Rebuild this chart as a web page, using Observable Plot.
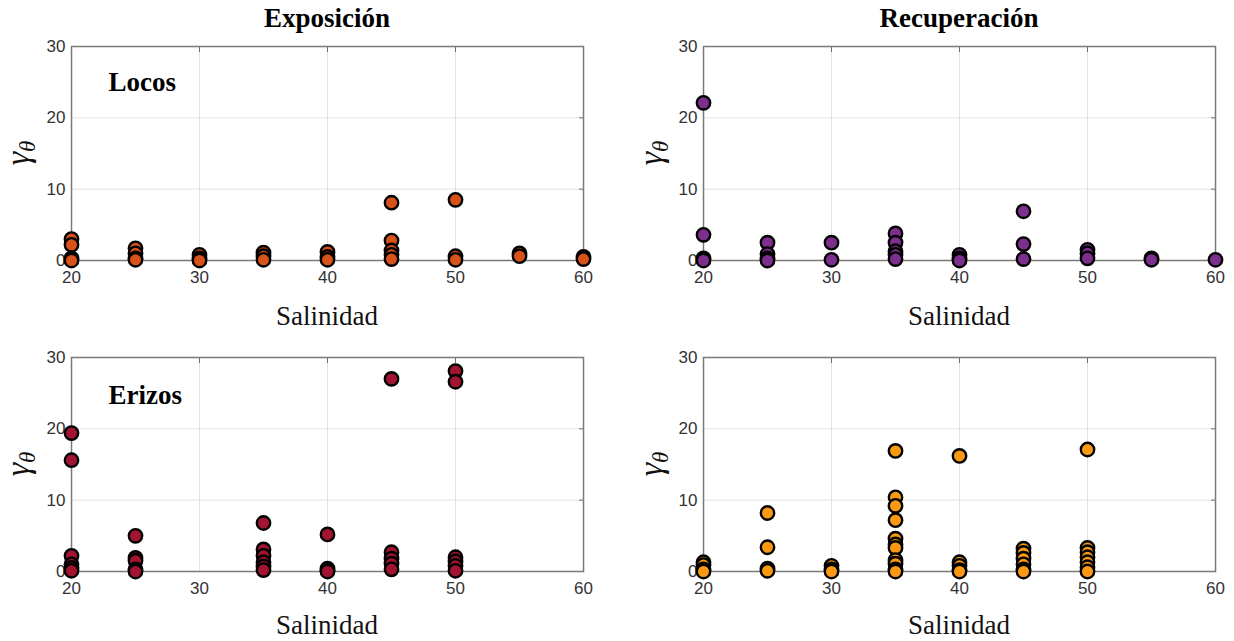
<!DOCTYPE html>
<html>
<head>
<meta charset="utf-8">
<script src="https://cdn.jsdelivr.net/npm/d3@7"></script>
<script src="https://cdn.jsdelivr.net/npm/@observablehq/plot@0.6"></script>
<style>
  html, body { margin: 0; padding: 0; background: #fff; }
  #chart { position: relative; width: 1234px; height: 641px; overflow: hidden; background: #fff; }
  #chart svg { position: absolute; }
</style>
</head>
<body>
<div id="chart"></div>
<script>
// ---- data ----
const salinidad = [20, 25, 30, 35, 40, 45, 50, 55, 60];
const xTicks = [20, 30, 40, 50, 60];
const yTicks = [0, 10, 20, 30];
const columnTitles = ["Exposición", "Recuperación"];
const rowNames = ["Locos", "Erizos"];
const xLabel = "Salinidad";

// values of gamma_theta per salinity (same order as `salinidad`)
const locosExposicion = [
  [3.0, 2.2, 0.3, 0.0],
  [1.7, 1.0, 0.3, 0.1],
  [0.8, 0.3, 0.0],
  [1.1, 0.6, 0.1],
  [1.2, 0.5, 0.1],
  [8.1, 2.8, 1.4, 0.8, 0.2],
  [8.5, 0.6, 0.1],
  [1.0, 0.6],
  [0.5, 0.2]
];
const locosRecuperacion = [
  [22.1, 3.6, 0.3, 0.0],
  [2.5, 0.9, 0.3, 0.0],
  [2.5, 0.1],
  [3.8, 2.5, 1.3, 0.8, 0.2],
  [0.8, 0.3, 0.0],
  [6.9, 2.3, 0.2],
  [1.5, 1.0, 0.3],
  [0.3, 0.1],
  [0.1]
];
const erizosExposicion = [
  [19.4, 15.6, 2.2, 1.0, 0.5, 0.1],
  [5.0, 1.9, 1.5, 0.3, 0.0],
  [],
  [6.8, 3.1, 2.2, 1.3, 0.7, 0.2],
  [5.2, 0.4, 0.1, 0.0],
  [27.0, 2.7, 1.8, 1.1, 0.3],
  [28.1, 26.6, 2.0, 1.4, 0.8, 0.1],
  [],
  []
];
const erizosRecuperacion = [
  [1.3, 0.9, 0.3, 0.0],
  [8.2, 3.4, 0.4, 0.1],
  [0.8, 0.3, 0.0],
  [16.9, 10.4, 9.2, 7.2, 4.6, 3.8, 3.3, 1.6, 1.1, 0.3, 0.0],
  [16.2, 1.3, 0.8, 0.2, 0.0],
  [3.2, 2.6, 1.8, 1.0, 0.3, 0.0],
  [17.1, 3.3, 2.7, 2.0, 1.3, 0.6, 0.0],
  [],
  []
];

// ---- styles ----
const colors = {
  locosExposicion: "#D95319",
  locosRecuperacion: "#7E2F8E",
  erizosExposicion: "#A2142F",
  erizosRecuperacion: "#F99A12"
};
const serif = "'Liberation Serif', 'DejaVu Serif', serif";
const sans = "'Liberation Sans', Arial, sans-serif";

function toRows(values) {
  const rows = [];
  salinidad.forEach((s, i) => (values[i] || []).forEach(v => rows.push({s, v})));
  return rows;
}

function panel(opts) {
  const {values, color, left, top, width, height, mL, mR, mT, mB, title, name, nameDy, yLabelX, xLabelDy} = opts;
  const svg = Plot.plot({
    width, height,
    marginLeft: mL, marginRight: mR, marginTop: mT, marginBottom: mB,
    x: {domain: [20, 60]},
    y: {domain: [0, 30]},
    style: {background: "transparent", fontFamily: sans, fontSize: "16px", color: "#333", overflow: "visible"},
    marks: [
      Plot.gridX(xTicks, {stroke: "#e2e2e2", strokeOpacity: 1}),
      Plot.gridY(yTicks, {stroke: "#e2e2e2", strokeOpacity: 1}),
      Plot.axisX(xTicks, {anchor: "top", tickSize: -5, tickFormat: () => "", stroke: "#6e6e6e", label: null}),
      Plot.axisY(yTicks, {anchor: "right", tickSize: -5, tickFormat: () => "", stroke: "#6e6e6e", label: null}),
      Plot.frame({stroke: "#7a7a7a", strokeWidth: 1.5}),
      Plot.axisX(xTicks, {anchor: "bottom", tickSize: 0, tickPadding: 10, label: null, fontSize: 17, fill: "#333"}),
      Plot.axisY(yTicks, {anchor: "left", tickSize: 0, tickPadding: 6, label: null, fontSize: 17, fill: "#333"}),
      Plot.dot(toRows(values), {x: "s", y: "v", r: 6.7, fill: color, stroke: "#000", strokeWidth: 2.4}),
      name ? Plot.text([name], {frameAnchor: "top-left", dx: 37, dy: nameDy, text: d => d, textAnchor: "start",
        lineAnchor: "bottom", fontFamily: serif, fontWeight: "bold", fontSize: 27, fill: "#000"}) : null
    ]
  });
  svg.style.left = left + "px";
  svg.style.top = top + "px";
  const s = d3.select(svg);
  const cx = mL + (width - mL - mR) / 2;
  const fb = height - mB;
  // x label
  s.append("text")
    .attr("x", cx).attr("y", fb + xLabelDy)
    .attr("text-anchor", "middle")
    .attr("font-family", serif).attr("font-size", 27).attr("fill", "#111")
    .text(xLabel);
  // y label gamma_theta
  const cy = mT + (fb - mT) / 2;
  const yl = s.append("text")
    .attr("transform", `translate(${yLabelX},${cy}) rotate(-90)`)
    .attr("text-anchor", "middle")
    .attr("font-family", serif).attr("font-style", "italic").attr("fill", "#111");
  yl.append("tspan").attr("font-size", 34).text("γ");
  yl.append("tspan").attr("font-size", 23).attr("dy", 6).text("θ");
  // column title
  if (title) {
    s.append("text")
      .attr("x", cx).attr("y", 27)
      .attr("text-anchor", "middle")
      .attr("font-family", serif).attr("font-weight", "bold").attr("font-size", 27).attr("fill", "#000")
      .text(title);
  }
  document.getElementById("chart").appendChild(svg);
}

panel({values: locosExposicion, color: colors.locosExposicion, left: 0, top: 0, width: 617, height: 320,
  mL: 71, mR: 34, mT: 46, mB: 60, title: columnTitles[0], name: rowNames[0], nameDy: 44, yLabelX: 29, xLabelDy: 65});
panel({values: locosRecuperacion, color: colors.locosRecuperacion, left: 617, top: 0, width: 617, height: 320,
  mL: 86, mR: 19, mT: 46, mB: 60, title: columnTitles[1], yLabelX: 45, xLabelDy: 65});
panel({values: erizosExposicion, color: colors.erizosExposicion, left: 0, top: 320, width: 617, height: 321,
  mL: 71, mR: 34, mT: 37, mB: 70, name: rowNames[1], nameDy: 46, yLabelX: 29, xLabelDy: 63});
panel({values: erizosRecuperacion, color: colors.erizosRecuperacion, left: 617, top: 320, width: 617, height: 321,
  mL: 86, mR: 19, mT: 37, mB: 70, yLabelX: 45, xLabelDy: 63});
</script>
</body>
</html>
